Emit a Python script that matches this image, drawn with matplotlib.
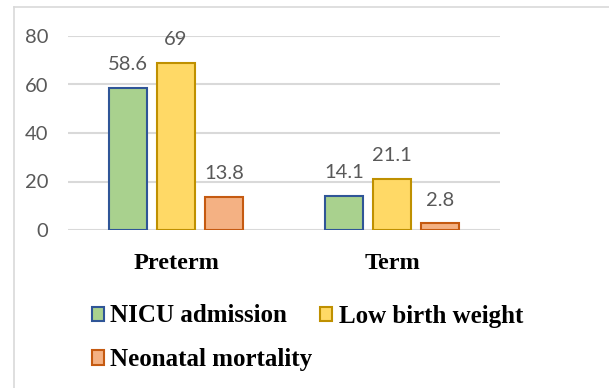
import matplotlib
matplotlib.use("Agg")
import matplotlib.pyplot as plt
from matplotlib.lines import Line2D
import numpy as np

categories = ["Preterm", "Term"]
series_names = ["NICU admission", "Low birth weight", "Neonatal mortality"]
nicu = [58.6, 14.1]
lbw = [69, 21.1]
mortality = [13.8, 2.8]
yticks = [0, 20, 40, 60, 80]

fills = ["#A9D18E", "#FFD966", "#F4B183"]
edges = ["#2F5597", "#BF9000", "#C55A11"]

fig = plt.figure(figsize=(6.09, 3.88), dpi=100)
ax = fig.add_axes([68/609, 1-230/388, 432/609, 194/388])

x = np.arange(len(categories))
width = 0.176
step = 0.222
handles = []
for i, (vals, name) in enumerate(zip([nicu, lbw, mortality], series_names)):
    pos = x + (i - 1) * step
    bars = ax.bar(pos, vals, width, color=fills[i], edgecolor=edges[i], linewidth=1.5, zorder=3, label=name)
    handles.append(bars)
    for p, v in zip(pos, vals):
        ax.annotate(f"{v:g}", (p, v), xytext=(0, 10.5), textcoords="offset points",
                    ha="center", va="bottom", fontsize=14.5, color="#595959", family="Lato")

ax.set_xlim(-0.5, 1.5)
ax.set_ylim(0, 80)
ax.set_yticks(yticks)
ax.set_xticks(x)
ax.set_xticklabels(categories, fontsize=17.5, fontweight="bold", family="Liberation Serif")
ax.tick_params(axis="x", length=0, pad=16.5)
ax.tick_params(axis="y", length=0, pad=14, labelsize=14.5, labelcolor="#595959")
for lab in ax.get_yticklabels():
    lab.set_family("Lato")
ax.grid(axis="y", color="#D9D9D9", linewidth=1.5, zorder=0)
for s in ax.spines.values():
    s.set_visible(False)

order = [0, 2, 1]
leg = fig.legend([handles[i] for i in order], [series_names[i] for i in order],
                 loc="upper left", bbox_to_anchor=(91.5/609, 1-304.5/388), ncol=2,
                 frameon=False, borderpad=0, borderaxespad=0, handlelength=0.5, handleheight=0.5,
                 handletextpad=0.25, columnspacing=0.3, labelspacing=0.83,
                 prop={"family": "Liberation Serif", "weight": "bold", "size": 18})

fig.add_artist(Line2D([14/609, 14/609], [0, 1-7/388], color="#D9D9D9", linewidth=1.2))
fig.add_artist(Line2D([14/609, 1], [1-7/388, 1-7/388], color="#D9D9D9", linewidth=1.2))

fig.savefig("out.png", dpi=100)
